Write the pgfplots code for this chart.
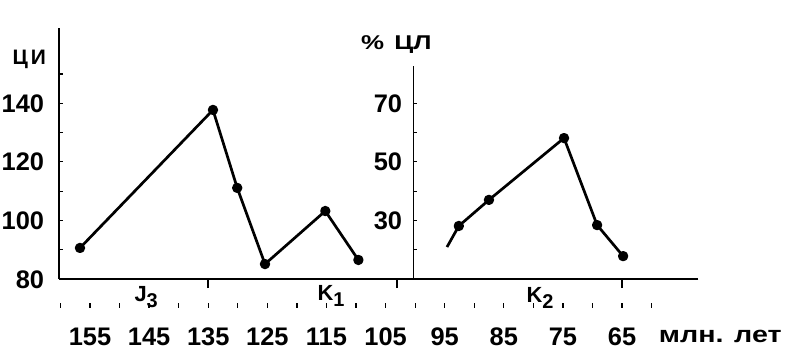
\documentclass[border=0pt]{standalone}
\usepackage{fontspec}
\setmainfont{Liberation Sans}
\usepackage{graphicx}
\usepackage{pgfplots}
\pgfplotsset{compat=1.18}
\newcommand{\fs}[1]{\fontsize{#1}{#1}\selectfont}
\begin{document}
\begin{tikzpicture}
\useasboundingbox (-59.3bp,-81bp) rectangle (732.7bp,279bp);
\pgfplotsset{
  every axis/.append style={
    scale only axis, x dir=reverse, clip=false,
    /pgf/number format/assume math mode=true,
    tick label style={font=\bfseries\fs{25.5}},
  }
}
% left panel
\begin{axis}[
  at={(0,0)}, anchor=south west,
  width=639bp, height=251bp,
  xmin=52.1, xmax=160.2, ymin=80, ymax=165.67,
  axis x line=bottom, axis y line=left,
  axis line style={-, line width=1.6bp, black},
  xtick=\empty,
  ytick={80,100,120,140}, minor ytick={90,110,130,150},
  tick align=inside, major tick length=4bp, minor tick length=4bp,
  tick style={line width=1.2bp, black},
  yticklabel style={anchor=base east, inner sep=0pt, xshift=-15bp, yshift=-9bp},
]
\addplot[black, line width=2.7bp, line join=round, mark=*, mark size=3.8bp, mark options={solid, fill=black}]
  coordinates {(156.7,90.6) (134.2,137.7) (130.1,111.1) (125.4,85.1) (115.2,103.2) (109.6,86.5)};
\end{axis}
% right panel
\begin{axis}[
  at={(354bp,0)}, anchor=south west,
  width=284.9bp, height=213bp,
  xmin=52.1, xmax=100.3, ymin=10, ymax=82.7,
  axis x line=none, axis y line=left,
  axis line style={-, line width=1.6bp, black},
  xtick=\empty,
  ytick={30,50,70}, minor ytick={20,40,60},
  tick align=inside, major tick length=4bp, minor tick length=4bp,
  tick style={line width=1.2bp, black},
  yticklabel style={anchor=base east, inner sep=0pt, xshift=-11bp, yshift=-9bp},
]
\addplot[black, line width=2.7bp, line join=round, mark=*, mark size=3.8bp, mark options={solid, fill=black}, mark indices={2,3,4,5,6}]
  coordinates {(94.6,20.9) (92.6,28.1) (87.5,37.0) (74.8,58.1) (69.2,28.4) (64.8,17.8)};
\end{axis}
% boundary ticks
\begin{axis}[
  at={(0,0)}, anchor=south west,
  width=639bp, height=10bp,
  xmin=52.1, xmax=160.2, ymin=0, ymax=1,
  axis x line=bottom, axis y line=none,
  axis line style={-, draw=none},
  xtick={135,103,65}, xticklabels={},
  tick align=outside, major tick length=9bp,
  tick style={line width=2bp, black},
]
\end{axis}
% time scale row
\begin{axis}[
  at={(0,-26bp)}, anchor=south west,
  width=639bp, height=10bp,
  xmin=52.1, xmax=160.2, ymin=0, ymax=1,
  axis x line=bottom, axis y line=none,
  axis line style={-, draw=none},
  xtick={65,75,...,155}, minor xtick={60,70,...,160},
  tick align=center, major tick length=5bp, minor tick length=5bp,
  tick style={line width=1.3bp, black},
  xticklabel style={anchor=base, inner sep=0pt, yshift=-38bp},
]
\end{axis}
% texts
\node[anchor=base, inner sep=0pt, font=\bfseries\fs{21}] at (-30bp,214bp) {Ц\hspace{3bp}И};
\node[anchor=base, inner sep=0pt, font=\bfseries\fs{20}] at (337bp,229bp) {\scalebox{1.3}[1]{\%\hspace{8bp}ЦЛ}};
\node[anchor=base, inner sep=0pt, font=\bfseries\fs{23}] at (661bp,-63bp) {\scalebox{1.25}[1]{млн. лет}};
\node[anchor=base west, inner sep=0pt, font=\bfseries\fs{22}] at (75bp,-22bp) {J\raisebox{-6bp}{\fs{20}3}};
\node[anchor=base west, inner sep=0pt, font=\bfseries\fs{22}] at (258bp,-21bp) {K\raisebox{-6bp}{\fs{20}1}};
\node[anchor=base west, inner sep=0pt, font=\bfseries\fs{22}] at (467bp,-23bp) {K\raisebox{-6bp}{\fs{20}2}};
\end{tikzpicture}
\end{document}
